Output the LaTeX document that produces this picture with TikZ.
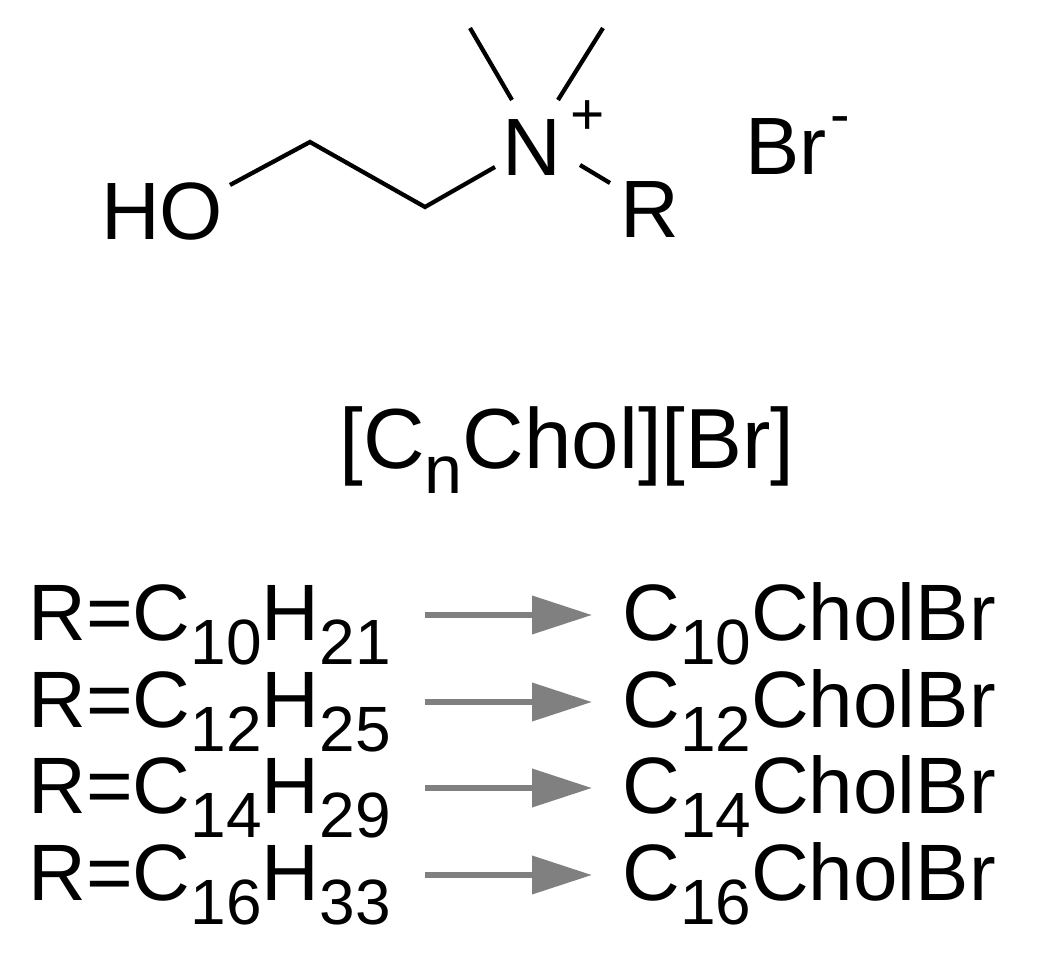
\documentclass[tikz,border=0pt]{standalone}
\usepackage{fontspec}
\setmainfont{Liberation Sans}
\usetikzlibrary{arrows.meta}
\newcommand\mysub[1]{\raisebox{-0.3em}{\scalebox{0.8}{#1}}}
\begin{document}
\begin{tikzpicture}[x=0.75pt,y=-0.75pt,
  big/.style={font=\fontsize{61}{64}\selectfont, inner sep=0pt},
  mid/.style={font=\fontsize{60}{62}\selectfont, inner sep=0pt, anchor=base west},
  bond/.style={line width=3.2pt},
  conv/.style={line width=4.5pt, draw={rgb,255:red,128;green,128;blue,128}, -{Triangle[length=45pt,width=28pt]}}]
\useasboundingbox (0,0) rectangle (1042,980);
\node[big, anchor=base west] (ho) at (101,240) {HO};
\coordinate (c1) at (310,142);
\coordinate (c2) at (425,207);
\node[big, anchor=base] (n) at (532,176) {N};
\node[font=\fontsize{44}{46}\selectfont, inner sep=0pt] (plus) at (588,118) {+};
\node[big, anchor=base] (r) at (650,238) {R};
\node[big, anchor=base west] (br) at (745,175) {Br};
\node[font=\fontsize{44}{46}\selectfont, inner sep=0pt] (minus) at (840,126) {-};
\coordinate (m1) at (470,28);
\coordinate (m2) at (603,28);
\draw[bond] (230,185) -- (c1) -- (c2) -- (495,167);
\draw[bond] (512,100) -- (m1);
\draw[bond] (558,100) -- (m2);
\draw[bond] (580,165) -- (610,183);
\node[font=\fontsize{64}{66}\selectfont, inner sep=0pt, anchor=base] (name) at (567,468) {[C\mysub{n}Chol][Br]};
\foreach \i/\a/\b/\y in {1/10/21/640,2/12/25/727,3/14/29/813,4/16/33/900}{
  \node[mid] (l\i) at (28,\y) {R=C\mysub{\a}H\mysub{\b}};
  \node[mid] (p\i) at (622,\y) {C\mysub{\a}CholBr};
  \coordinate (s\i) at (425,\y-25);
  \coordinate (e\i) at (592,\y-25);
  \draw[conv] (s\i) -- (e\i);
}
\end{tikzpicture}
\end{document}
